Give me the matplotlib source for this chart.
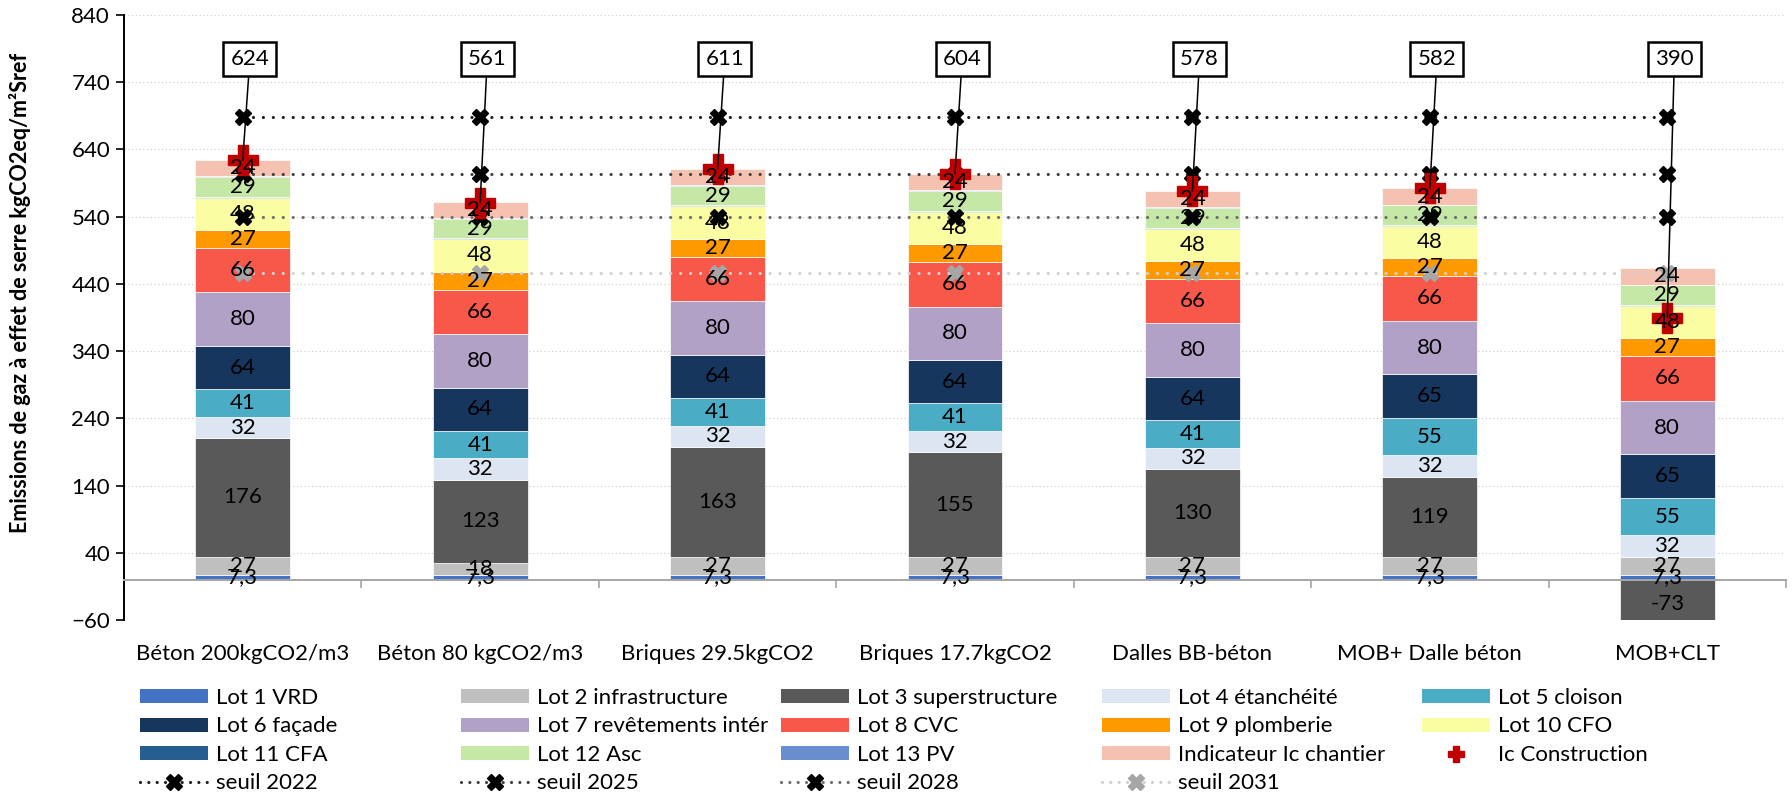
import matplotlib
matplotlib.use("Agg")
import matplotlib.pyplot as plt
from matplotlib.patches import Patch
from matplotlib.lines import Line2D
import numpy as np

plt.rcParams['font.family'] = ['Lato', 'DejaVu Sans']

# ---- data -------------------------------------------------------------
categories = ["Béton 200kgCO2/m3", "Béton 80 kgCO2/m3", "Briques 29.5kgCO2",
              "Briques 17.7kgCO2", "Dalles BB-béton", "MOB+ Dalle béton", "MOB+CLT"]

lot1_vrd = [7.3, 7.3, 7.3, 7.3, 7.3, 7.3, 7.3]
lot2_infra = [27, 18, 27, 27, 27, 27, 27]
lot3_super = [176, 123, 163, 155, 130, 119, -73]
lot4_etanch = [32, 32, 32, 32, 32, 32, 32]
lot5_cloison = [41, 41, 41, 41, 41, 55, 55]
lot6_facade = [64, 64, 64, 64, 64, 65, 65]
lot7_revet = [80, 80, 80, 80, 80, 80, 80]
lot8_cvc = [66, 66, 66, 66, 66, 66, 66]
lot9_plomb = [27, 27, 27, 27, 27, 27, 27]
lot10_cfo = [48, 48, 48, 48, 48, 48, 48]
lot11_cfa = [1.5, 1.5, 1.5, 1.5, 1.5, 1.5, 1.5]
lot12_asc = [29, 29, 29, 29, 29, 29, 29]
lot13_pv = [1.2, 1.2, 1.2, 1.2, 1.2, 1.2, 1.2]
ic_chantier = [24, 24, 24, 24, 24, 24, 24]

ic_construction = [624, 561, 611, 604, 578, 582, 390]

seuil_2022 = [688] * 7
seuil_2025 = [604] * 7
seuil_2028 = [539] * 7
seuil_2031 = [456] * 7

yticks = [-60, 40, 140, 240, 340, 440, 540, 640, 740, 840]

# ---- styling ----------------------------------------------------------
series = [
    ("Lot 1 VRD", lot1_vrd, "#4472C4", True),
    ("Lot 2 infrastructure", lot2_infra, "#BFBFBF", True),
    ("Lot 3 superstructure", lot3_super, "#595959", True),
    ("Lot 4 étanchéité", lot4_etanch, "#DCE5F1", True),
    ("Lot 5 cloison", lot5_cloison, "#4BACC6", True),
    ("Lot 6 façade", lot6_facade, "#17365D", True),
    ("Lot 7 revêtements intér", lot7_revet, "#B2A1C7", True),
    ("Lot 8 CVC", lot8_cvc, "#F7584A", True),
    ("Lot 9 plomberie", lot9_plomb, "#FF9900", True),
    ("Lot 10 CFO", lot10_cfo, "#FAFDA2", True),
    ("Lot 11 CFA", lot11_cfa, "#255E91", False),
    ("Lot 12 Asc", lot12_asc, "#C6E8A6", True),
    ("Lot 13 PV", lot13_pv, "#698ED0", False),
    ("Indicateur Ic chantier", ic_chantier, "#F5C2B1", True),
]
seuils = [
    ("seuil 2022", seuil_2022, "#202020", "black"),
    ("seuil 2025", seuil_2025, "#404040", "black"),
    ("seuil 2028", seuil_2028, "#6E6E6E", "black"),
    ("seuil 2031", seuil_2031, "#D0D0D0", "#A6A6A6"),
]
IC_RED = "#C00000"
FS = 16
W, H = 1792, 792

fig = plt.figure(figsize=(W / 100, H / 100), dpi=100)
ax = fig.add_axes([124 / W, 1 - 620 / H, (1786 - 124) / W, (620 - 15) / H])

x = np.arange(len(categories))
bar_w = 0.40
pos_base = np.zeros(len(x))
neg_base = np.zeros(len(x))

for name, vals, color, show in series:
    vals = np.asarray(vals, dtype=float)
    bottoms = np.where(vals >= 0, pos_base, neg_base)
    ax.bar(x, vals, bar_w, bottom=bottoms, color=color, edgecolor="white",
           linewidth=0.5, zorder=2)
    if show:
        for xi, b, v in zip(x, bottoms, vals):
            txt = f"{v:g}".replace(".", ",")
            ax.text(xi, b + v / 2, txt, ha="center", va="center", fontsize=FS,
                    color="black", zorder=6)
    pos_base = np.where(vals >= 0, pos_base + vals, pos_base)
    neg_base = np.where(vals < 0, neg_base + vals, neg_base)

# threshold lines
for name, vals, lc, mc in seuils:
    ax.plot(x, vals, color=lc, lw=2.3, linestyle=(0, (0.01, 3.1)),
            dash_capstyle="round", marker="X", markersize=12,
            markerfacecolor=mc, markeredgecolor=mc, zorder=4)

# Ic construction markers with boxed labels
ax.plot(x, ic_construction, linestyle="none", marker="P", markersize=21,
        markerfacecolor=IC_RED, markeredgecolor=IC_RED, zorder=5)
for xi, v in zip(x, ic_construction):
    ax.annotate(f"{v}", xy=(xi, v), xytext=(xi + 0.03, 774),
                ha="center", va="center", fontsize=FS, zorder=7,
                bbox=dict(boxstyle="square,pad=0.32", fc="white", ec="black", lw=1.8),
                arrowprops=dict(arrowstyle="-", color="black", lw=1.1,
                                shrinkA=0, shrinkB=0))

# axes
ax.set_xlim(-0.5, len(categories) - 0.5)
ax.set_ylim(-60, 840)
ax.set_yticks(yticks)
ax.tick_params(axis="y", labelsize=FS, length=6, width=1.2, pad=4)
ax.yaxis.grid(True, color="#D0D0D0", linestyle=(0, (1, 2)), lw=0.9)
ax.set_axisbelow(True)
for s in ("top", "right"):
    ax.spines[s].set_visible(False)
ax.spines["left"].set_linewidth(1.4)
ax.spines["bottom"].set_position(("data", 0))
ax.spines["bottom"].set_color("#A6A6A6")
ax.spines["bottom"].set_linewidth(1.4)
ax.spines["bottom"].set_zorder(3)
ax.set_xticks(np.arange(-0.5, len(categories)), labels=[])
ax.tick_params(axis="x", which="major", length=6, width=1.2, color="#A6A6A6")
ax.set_xticks(x, labels=categories, minor=True)
ax.tick_params(axis="x", which="minor", length=0, labelsize=FS, pad=46)

ax.set_ylabel("Emissions de gaz à effet de serre kgCO2eq/m²Sref",
              fontsize=15.5, fontweight="bold")
ax.yaxis.set_label_coords(31 / W, 1 - 293 / H, transform=fig.transFigure)

# legend: five columns laid out row by row
handles = [Patch(facecolor=c, edgecolor="none") for _, _, c, _ in series]
labels = [n for n, _, _, _ in series]
handles.append(Line2D([], [], linestyle="none", marker="P", markersize=12,
                      markerfacecolor=IC_RED, markeredgecolor=IC_RED))
labels.append("Ic Construction")
for name, _, lc, mc in seuils:
    handles.append(Line2D([], [], color=lc, lw=2.3, linestyle=(0, (0.01, 2.6)),
                          dash_capstyle="round", marker="X", markersize=11,
                          markerfacecolor=mc, markeredgecolor=mc))
    labels.append(name)

ncol = 5
col_x0 = 140
col_step = 320.5
for j in range(ncol):
    idx = list(range(j, len(handles), ncol))
    leg = fig.legend([handles[i] for i in idx], [labels[i] for i in idx],
                     loc="upper left", bbox_to_anchor=((col_x0 + j * col_step) / W, 1 - 688 / H),
                     frameon=False, fontsize=FS, borderpad=0, borderaxespad=0,
                     handlelength=68 / (FS * 100 / 72), handleheight=0.58,
                     handletextpad=0.36, labelspacing=0.38)

fig.savefig("out.png", dpi=100)
